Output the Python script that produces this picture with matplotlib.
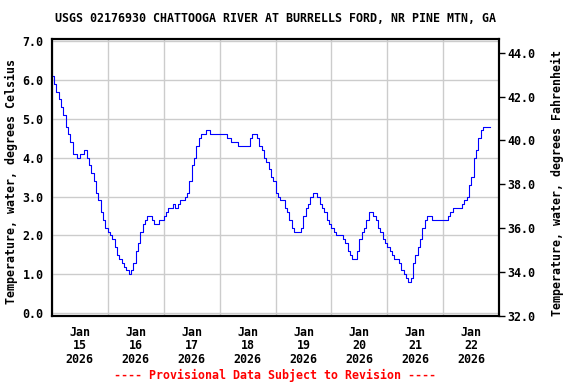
import numpy as np
import pandas as pd
import matplotlib
matplotlib.use("Agg")
from matplotlib import pyplot as plt
import matplotlib.dates as mdates
from matplotlib.ticker import FormatStrFormatter, MultipleLocator

# hourly water temperature (deg C), starting Jan 15 2026 00:00
temp_jan15 = [6.1, 5.9, 5.7, 5.5, 5.3, 5.1, 4.8, 4.6, 4.4, 4.1, 4.1, 4.0,
              4.1, 4.1, 4.2, 4.0, 3.8, 3.6, 3.4, 3.1, 2.9, 2.6, 2.4, 2.2]
temp_jan16 = [2.1, 2.0, 1.9, 1.7, 1.5, 1.4, 1.3, 1.2, 1.1, 1.0, 1.1, 1.3,
              1.6, 1.8, 2.1, 2.3, 2.4, 2.5, 2.5, 2.4, 2.3, 2.3, 2.4, 2.4]
temp_jan17 = [2.5, 2.6, 2.7, 2.7, 2.8, 2.7, 2.8, 2.9, 2.9, 3.0, 3.1, 3.4,
              3.8, 4.0, 4.3, 4.5, 4.6, 4.6, 4.7, 4.7, 4.6, 4.6, 4.6, 4.6]
temp_jan18 = [4.6, 4.6, 4.6, 4.5, 4.5, 4.4, 4.4, 4.4, 4.3, 4.3, 4.3, 4.3,
              4.3, 4.5, 4.6, 4.6, 4.5, 4.3, 4.2, 4.0, 3.9, 3.7, 3.5, 3.4]
temp_jan19 = [3.1, 3.0, 2.9, 2.9, 2.7, 2.6, 2.4, 2.2, 2.1, 2.1, 2.1, 2.2,
              2.5, 2.7, 2.8, 3.0, 3.1, 3.1, 3.0, 2.8, 2.7, 2.6, 2.4, 2.3]
temp_jan20 = [2.2, 2.1, 2.0, 2.0, 2.0, 1.9, 1.8, 1.6, 1.5, 1.4, 1.4, 1.6,
              1.9, 2.1, 2.2, 2.4, 2.6, 2.6, 2.5, 2.4, 2.2, 2.1, 1.9, 1.8]
temp_jan21 = [1.7, 1.6, 1.5, 1.4, 1.4, 1.3, 1.1, 1.0, 0.9, 0.8, 0.9, 1.3,
              1.5, 1.7, 1.9, 2.2, 2.4, 2.5, 2.5, 2.4, 2.4, 2.4, 2.4, 2.4]
temp_jan22 = [2.4, 2.4, 2.5, 2.6, 2.7, 2.7, 2.7, 2.7, 2.8, 2.9, 3.0, 3.3,
              3.5, 4.0, 4.2, 4.5, 4.7, 4.8, 4.8, 4.8, 4.8]

temps = (temp_jan15 + temp_jan16 + temp_jan17 + temp_jan18 +
         temp_jan19 + temp_jan20 + temp_jan21 + temp_jan22)
times = pd.date_range("2026-01-15 00:00", periods=len(temps), freq="h")

title = "USGS 02176930 CHATTOOGA RIVER AT BURRELLS FORD, NR PINE MTN, GA"
left_label = "Temperature, water, degrees Celsius"
right_label = "Temperature, water, degrees Fahrenheit"
footer = "---- Provisional Data Subject to Revision ----"

FONT = dict(family="DejaVu Sans Mono", weight="bold", size=8.4)

fig = plt.figure(figsize=(5.76, 3.84), dpi=100)
ax = fig.add_axes([0.0898, 0.1771, 0.777, 0.7206])

ax.plot(times, temps, color="#0000FF", linewidth=0.8, drawstyle="steps-post", zorder=3)

ax.set_xlim(pd.Timestamp("2026-01-15"), pd.Timestamp("2026-01-23"))
ax.set_ylim(-0.07, 7.044)

# labels at noon, grid lines at midnight
ax.xaxis.set_major_locator(mdates.HourLocator(byhour=12))
ax.xaxis.set_major_formatter(mdates.DateFormatter("%b\n%d\n%Y"))
ax.xaxis.set_minor_locator(mdates.DayLocator())
ax.yaxis.set_major_locator(MultipleLocator(1.0))
ax.yaxis.set_major_formatter(FormatStrFormatter("%.1f"))

ax.grid(True, which="minor", axis="x", color="#CCCCCC", linewidth=1.0)
ax.grid(True, which="major", axis="y", color="#CCCCCC", linewidth=1.0)
ax.set_axisbelow(True)

ax.tick_params(axis="x", which="both", length=0, pad=7)
ax.tick_params(axis="y", which="both", length=0, pad=6)
for lab in ax.get_xticklabels() + ax.get_yticklabels():
    lab.set_fontproperties(matplotlib.font_manager.FontProperties(**FONT))
for lab in ax.get_xticklabels():
    lab.set_linespacing(1.05)
for sp in ax.spines.values():
    sp.set_linewidth(1.5)

# Fahrenheit axis on the right
ax2 = ax.twinx()
ax2.set_ylim(32.0, 44.61)
ax2.yaxis.set_major_locator(MultipleLocator(2.0))
ax2.yaxis.set_major_formatter(FormatStrFormatter("%.1f"))
ax2.tick_params(axis="y", length=4, width=1, pad=2)
for lab in ax2.get_yticklabels():
    lab.set_fontproperties(matplotlib.font_manager.FontProperties(**FONT))
for sp in ax2.spines.values():
    sp.set_linewidth(1.5)

# title and footer are centred on the plot area, not the figure
fig.text(275.5 / 576, 1 - 18 / 384, title, ha="center", va="center", **FONT)
fig.text(11.5 / 576, 1 - 181.5 / 384, left_label, rotation=90,
         ha="center", va="center", **FONT)
fig.text(557 / 576, 1 - 182.5 / 384, right_label, rotation=90,
         ha="center", va="center", **FONT)
fig.text(275.5 / 576, 1 - 375 / 384, footer, ha="center", va="center",
         color="#FF0000", **FONT)

fig.savefig("out.png", dpi=100)
